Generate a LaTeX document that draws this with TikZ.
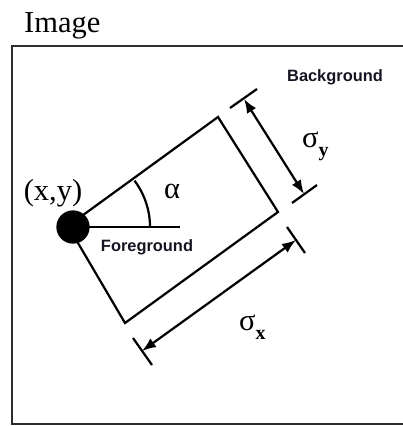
\documentclass[tikz,border=0pt]{standalone}
\usepackage{fontspec}
\setmainfont{Liberation Serif}
\newfontfamily\regionfont{Liberation Sans}
\usepackage{tikz}
\usetikzlibrary{arrows.meta, positioning}
\definecolor{frameGray}{RGB}{45, 45, 45}
\definecolor{labelInk}{RGB}{20, 20, 35}
\tikzset{
  framebox/.style={
    draw=frameGray, line width=2.2pt
  },
  edgeline/.style={
    draw=black, line width=1.9pt
  },
  tickline/.style={
    draw=black, line width=1.9pt
  },
  dimarrow/.style={
    {Latex[length=0.42cm,width=0.32cm]}-{Latex[length=0.42cm,width=0.32cm]},
    line width=1.9pt
  },
  seriflabel/.style={
    inner sep=0pt, font=\fontsize{26}{30}\selectfont
  },
  regionlabel/.style={
    inner sep=0pt, text=labelInk,
    font=\regionfont\bfseries\fontsize{14}{16}\selectfont
  },
  centerdot/.style={
    circle, fill=black, minimum size=1.0cm, inner sep=0pt
  }
}
\newcommand{\sigmasub}[1]{σ\raisebox{-0.3em}{\fontsize{17}{20}\selectfont\bfseries #1}}

\begin{document}
\begin{tikzpicture}[x=0.03cm, y=0.03cm]
  \useasboundingbox (0,0) rectangle (403,-426);

  \node[seriflabel, font=\fontsize{26}{30}\selectfont, anchor=base west] (title) at (24,-33) {Image};
  \draw[framebox] (12,-46) rectangle (408,-424);

  % rotated box
  \coordinate (xy) at (73,-227);
  \coordinate (c0) at (68,-226);
  \coordinate (c1) at (218,-117);
  \coordinate (c2) at (278,-212);
  \coordinate (c3) at (125,-323);
  \draw[edgeline] (c0) -- (c1) -- (c2) -- (c3) -- cycle;

  % angle
  \coordinate (hz) at (180,-227);
  \draw[edgeline] (xy) -- (hz);
  \draw[edgeline] ([shift={(2.31cm,0)}]xy) arc[start angle=0, end angle=37, radius=2.31cm];

  % sigma y
  \coordinate (ty1a) at (230,-108);
  \coordinate (ty1b) at (257,-89);
  \coordinate (ty2a) at (292,-203);
  \coordinate (ty2b) at (317,-185);
  \coordinate (sy1) at (244,-99);
  \coordinate (sy2) at (304,-194);
  \draw[tickline] (ty1a) -- (ty1b);
  \draw[tickline] (ty2a) -- (ty2b);
  \draw[dimarrow] (sy1) -- (sy2);

  % sigma x
  \coordinate (tx1a) at (287,-227);
  \coordinate (tx1b) at (305,-253);
  \coordinate (tx2a) at (133,-338);
  \coordinate (tx2b) at (152,-365);
  \coordinate (sx1) at (296,-240);
  \coordinate (sx2) at (142,-351);
  \draw[tickline] (tx1a) -- (tx1b);
  \draw[tickline] (tx2a) -- (tx2b);
  \draw[dimarrow] (sx1) -- (sx2);

  \node[centerdot] (dot) at (xy) {};

  \node[seriflabel] (pos) at (53,-193) {(x,y)};
  \node[seriflabel] (alpha) at (172,-191) {α};
  \node[seriflabel, anchor=base west] (sigy) at (302,-147) {\sigmasub{y}};
  \node[seriflabel, anchor=base west] (sigx) at (239,-330) {\sigmasub{x}};
  \node[regionlabel] (fg) at (147,-247) {Foreground};
  \node[regionlabel] (bg) at (335,-77) {Background};
\end{tikzpicture}
\end{document}
